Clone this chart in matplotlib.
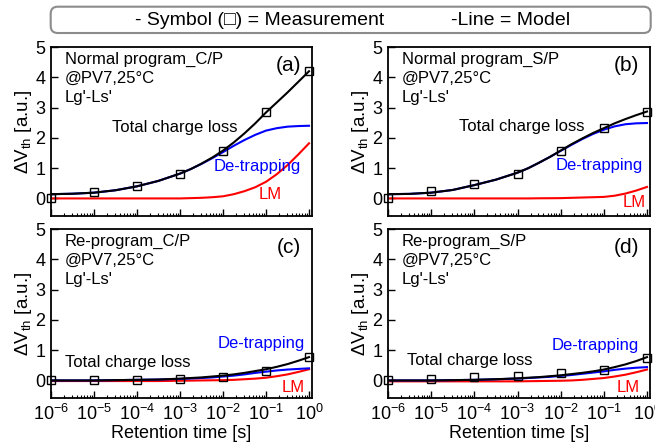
"""Retention charge-loss panels: measurement vs model (de-trapping + LM)."""

import matplotlib

matplotlib.use("Agg")
import matplotlib.pyplot as plt
from matplotlib.patches import FancyBboxPatch
from matplotlib.ticker import LogLocator, NullFormatter

plt.rcParams["font.family"] = ["Liberation Sans", "DejaVu Sans"]
plt.rcParams["mathtext.fontset"] = "custom"
plt.rcParams["mathtext.rm"] = "Liberation Sans"
plt.rcParams["mathtext.it"] = "Liberation Sans:italic"

# measurement times (decades) and model grid (finer near the end)
t_meas = [1e-6, 1e-5, 1e-4, 1e-3, 1e-2, 1e-1, 1e0]
t_model = [1e-6, 3.16e-6, 1e-5, 3.16e-5, 1e-4, 3.16e-4, 1e-3,
           1.78e-3, 3.16e-3, 5.62e-3, 1e-2, 1.78e-2, 3.16e-2, 5.62e-2,
           1e-1, 0.178, 0.316, 0.562, 1e0]

meas_a = [0.0, 0.2, 0.4, 0.8, 1.55, 2.85, 4.2]
total_a = [0.14, 0.155, 0.19, 0.27, 0.40, 0.58, 0.82,
           0.97, 1.15, 1.35, 1.58, 1.85, 2.15, 2.48, 2.84, 3.17, 3.5, 3.85, 4.2]
detrap_a = [0.14, 0.155, 0.19, 0.27, 0.40, 0.58, 0.82,
            0.97, 1.14, 1.33, 1.53, 1.74, 1.93, 2.1, 2.24, 2.32, 2.37, 2.39, 2.40]
lm_a = [0.0, 0.0, 0.0, 0.0, 0.0, 0.0, 0.0,
        0.01, 0.02, 0.04, 0.07, 0.14, 0.24, 0.37, 0.55, 0.8, 1.1, 1.45, 1.82]

meas_b = [0.0, 0.24, 0.47, 0.82, 1.58, 2.32, 2.87]
total_b = [0.14, 0.15, 0.19, 0.28, 0.44, 0.62, 0.85,
           1.0, 1.18, 1.37, 1.58, 1.79, 1.98, 2.16, 2.32, 2.48, 2.62, 2.75, 2.87]
detrap_b = [0.14, 0.15, 0.19, 0.28, 0.44, 0.62, 0.85,
            1.0, 1.18, 1.37, 1.57, 1.77, 1.96, 2.13, 2.27, 2.38, 2.45, 2.48, 2.49]
lm_b = [0.0, 0.0, 0.0, 0.0, 0.0, 0.0, 0.0,
        0.0, 0.005, 0.007, 0.01, 0.02, 0.03, 0.04, 0.05, 0.09, 0.16, 0.26, 0.38]

meas_c = [0.0, 0.0, 0.0, 0.05, 0.12, 0.3, 0.78]
total_c = [0.0, 0.0, 0.0, 0.01, 0.02, 0.03, 0.06,
           0.08, 0.1, 0.13, 0.16, 0.2, 0.25, 0.31, 0.37, 0.45, 0.54, 0.65, 0.77]
detrap_c = [0.0, 0.0, 0.0, 0.01, 0.02, 0.03, 0.05,
            0.065, 0.08, 0.1, 0.13, 0.16, 0.2, 0.25, 0.29, 0.33, 0.36, 0.38, 0.40]
lm_c = [-0.02, -0.02, -0.02, -0.02, -0.02, -0.02, -0.01,
        -0.005, 0.0, 0.005, 0.01, 0.02, 0.04, 0.06, 0.09, 0.14, 0.2, 0.28, 0.37]

meas_d = [0.0, 0.05, 0.11, 0.16, 0.23, 0.34, 0.75]
total_d = [0.0, 0.0, 0.0, 0.01, 0.02, 0.04, 0.07,
           0.09, 0.11, 0.14, 0.17, 0.21, 0.25, 0.3, 0.36, 0.44, 0.53, 0.64, 0.77]
detrap_d = [0.0, 0.0, 0.0, 0.01, 0.02, 0.04, 0.06,
            0.08, 0.1, 0.12, 0.15, 0.18, 0.22, 0.26, 0.3, 0.35, 0.39, 0.42, 0.44]
lm_d = [-0.03, -0.03, -0.03, -0.03, -0.03, -0.03, -0.03,
        -0.025, -0.02, -0.015, -0.01, 0.0, 0.02, 0.05, 0.08, 0.13, 0.19, 0.27, 0.36]

titles = ["Normal program_C/P", "Normal program_S/P", "Re-program_C/P", "Re-program_S/P"]
tags = ["(a)", "(b)", "(c)", "(d)"]

panels = [
    (meas_a, total_a, detrap_a, lm_a),
    (meas_b, total_b, detrap_b, lm_b),
    (meas_c, total_c, detrap_c, lm_c),
    (meas_d, total_d, detrap_d, lm_d),
]

# label positions (x in s, y in a.u.) for each panel: total, de-trapping, LM
label_pos = [
    ((10**-3.12, 2.34), (10**-1.2, 1.06), (10**-0.91, 0.14)),
    ((10**-2.91, 2.39), (10**-1.11, 1.09), (10**-0.3, -0.15)),
    ((10**-4.21, 0.58), (10**-1.1, 1.22), (10**-0.36, -0.22)),
    ((10**-4.11, 0.65), (10**-1.2, 1.14), (10**-0.43, -0.22)),
]

fig = plt.figure(figsize=(6.55, 4.47), dpi=100)
rects = [
    (0.0779, 0.5168, 0.3985, 0.378),
    (0.5924, 0.5168, 0.4, 0.378),
    (0.0779, 0.1096, 0.3985, 0.378),
    (0.5924, 0.1096, 0.4, 0.378),
]

for i, rect in enumerate(rects):
    ax = fig.add_axes(rect)
    meas, total, detrap, lm = panels[i]
    ax.plot(t_model, lm, color="#ff0000", lw=1.5)
    ax.plot(t_model, detrap, color="#0000ff", lw=1.5)
    ax.plot(t_model, total, color="black", lw=1.5)
    ax.plot(t_meas, meas, ls="none", marker="s", ms=5.5, mfc="none", mec="black",
            mew=1.0, clip_on=False, zorder=5)

    ax.set_xscale("log")
    ax.set_xlim(1e-6, 10**0.07)
    ax.set_ylim(-0.58, 5.0)
    ax.set_yticks([0, 1, 2, 3, 4, 5])
    ax.xaxis.set_major_locator(LogLocator(base=10, numticks=10))
    ax.xaxis.set_minor_locator(LogLocator(base=10, subs=range(2, 10), numticks=20))
    ax.xaxis.set_minor_formatter(NullFormatter())
    ax.tick_params(which="major", direction="in", length=5, width=1.0,
                   labelsize=13, pad=4)
    ax.tick_params(which="minor", direction="in", length=2.5, width=0.8)
    for sp in ax.spines.values():
        sp.set_linewidth(1.3)

    if i < 2:
        ax.tick_params(axis="x", labelbottom=False)
    else:
        ax.set_xlabel("Retention time [s]", fontsize=13, labelpad=1)
    ax.set_ylabel("ΔV$_{\\mathrm{th}}$ [a.u.]", fontsize=13.5, labelpad=1)

    ax.text(0.053, 0.97, titles[i] + "\n@PV7,25°C\nLg'-Ls'", transform=ax.transAxes,
            ha="left", va="top", fontsize=12, linespacing=1.33)
    ax.text(0.91, 0.89, tags[i], transform=ax.transAxes, ha="center", va="center",
            fontsize=15)

    (xt, yt), (xd, yd), (xl, yl) = label_pos[i]
    ax.text(xt, yt, "Total charge loss", ha="center", va="center", fontsize=12,
            color="black")
    ax.text(xd, yd, "De-trapping", ha="center", va="center", fontsize=12,
            color="#0000ff")
    ax.text(xl, yl, "LM", ha="center", va="center", fontsize=12, color="#ff0000")

# header box
box = FancyBboxPatch((0.507, 4.14), 6.0, 0.263, boxstyle="round,pad=0,rounding_size=0.07",
                     transform=fig.dpi_scale_trans, fc="white", ec="#8c8c8c", lw=1.5)
fig.patches.append(box)
fig.text(259.5 / 655, 0.955, "- Symbol (\u25a1) = Measurement", ha="center",
         va="center", fontsize=14)
fig.text(510.5 / 655, 0.955, "-Line = Model", ha="center", va="center", fontsize=14)

fig.savefig("out.png", dpi=100)
